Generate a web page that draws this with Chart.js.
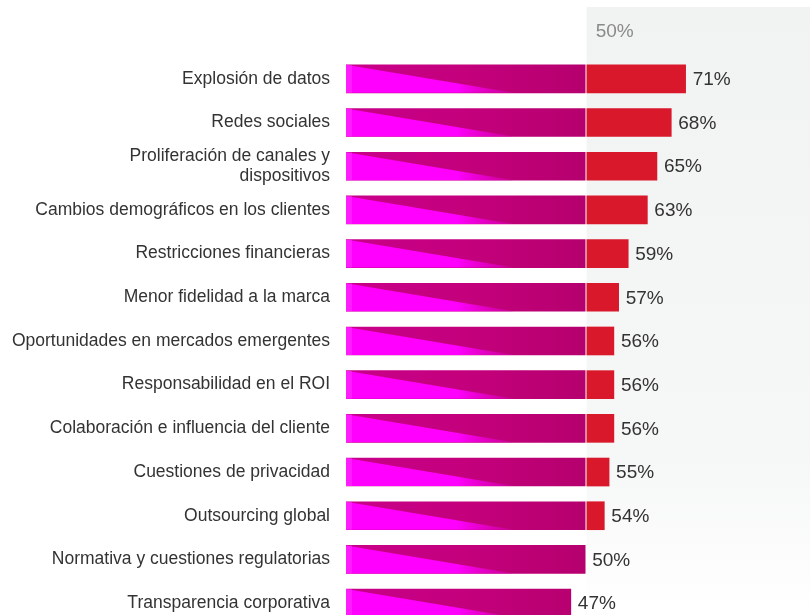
<!DOCTYPE html>
<html>
<head>
<meta charset="utf-8">
<script src="https://cdn.jsdelivr.net/npm/chart.js@4.4.1/dist/chart.umd.min.js"></script>
<style>
  html, body { margin: 0; padding: 0; background: #fff; overflow: hidden; }
  canvas { display: block; }
</style>
</head>
<body>
<canvas id="factorsChart" width="810" height="643"></canvas>
<script>
const categories = [
  'Explosión de datos',
  'Redes sociales',
  ['Proliferación de canales y', 'dispositivos'],
  'Cambios demográficos en los clientes',
  'Restricciones financieras',
  'Menor fidelidad a la marca',
  'Oportunidades en mercados emergentes',
  'Responsabilidad en el ROI',
  'Colaboración e influencia del cliente',
  'Cuestiones de privacidad',
  'Outsourcing global',
  'Normativa y cuestiones regulatorias',
  'Transparencia corporativa'
];
const percentages = [71, 68, 65, 63, 59, 57, 56, 56, 56, 55, 54, 50, 47];
const threshold = 50;
const headerLabel = '50%';

const baseParts = percentages.map(v => [0, Math.min(v, threshold)]);
const extraParts = percentages.map(v => v > threshold ? [threshold + 0.35, v] : null);

// gray panel behind the part above 50%
const panelPlugin = {
  id: 'panel',
  beforeDraw(chart) {
    const { ctx, scales } = chart;
    const x0 = scales.x.getPixelForValue(threshold) + 1.5;
    const g = ctx.createLinearGradient(0, 7, 0, 615);
    g.addColorStop(0, '#f1f2f2');
    g.addColorStop(0.75, '#f6f7f7');
    g.addColorStop(1, '#ffffff');
    ctx.save();
    ctx.fillStyle = g;
    ctx.fillRect(x0, 7, chart.width - x0, chart.height - 7);
    ctx.fillStyle = '#8a8a8a';
    ctx.font = '19px "Liberation Sans", Arial, sans-serif';
    ctx.textBaseline = 'middle';
    ctx.fillText(headerLabel, x0 + 9, 32);
    ctx.restore();
  }
};

// bright diagonal wedge on the magenta part + value labels
const overlayPlugin = {
  id: 'overlay',
  afterDatasetsDraw(chart) {
    const { ctx, scales } = chart;
    const meta = chart.getDatasetMeta(0);
    const xl = scales.x.getPixelForValue(0);
    const xd = scales.x.getPixelForValue(35);
    ctx.save();
    meta.data.forEach((bar, i) => {
      const top = bar.y - bar.height / 2;
      const bottom = bar.y + bar.height / 2;
      const g = ctx.createLinearGradient(xl, 0, xd, 0);
      g.addColorStop(0, '#ff00ff');
      g.addColorStop(0.66, '#ff00ff');
      g.addColorStop(1, 'rgba(214,0,170,0.6)');
      ctx.fillStyle = g;
      ctx.beginPath();
      ctx.moveTo(xl, top);
      ctx.lineTo(xl, bottom);
      ctx.lineTo(xd, bottom);
      ctx.closePath();
      ctx.fill();
      // thin lighter strip at the start
      ctx.fillStyle = 'rgba(255,80,255,0.35)';
      ctx.fillRect(xl, top, 6, bar.height);

      const v = percentages[i];
      ctx.fillStyle = '#333';
      ctx.font = '19px "Liberation Sans", Arial, sans-serif';
      ctx.textBaseline = 'middle';
      ctx.fillText(v + '%', scales.x.getPixelForValue(v) + 7, bar.y + 1);
    });
    ctx.restore();
  }
};

const ctx = document.getElementById('factorsChart').getContext('2d');
new Chart(ctx, {
  type: 'bar',
  data: {
    labels: categories,
    datasets: [{
      label: 'base',
      data: baseParts,
      backgroundColor: (c) => {
        const area = c.chart.chartArea;
        if (!area) return '#c2007a';
        const x50 = c.chart.scales.x.getPixelForValue(threshold);
        const g = c.chart.ctx.createLinearGradient(area.left, 0, x50, 0);
        g.addColorStop(0, '#c8008a');
        g.addColorStop(0.5, '#c4007c');
        g.addColorStop(1, '#b6006e');
        return g;
      },
      borderSkipped: false,
      barThickness: 28,
      grouped: false
    }, {
      label: 'extra',
      data: extraParts,
      backgroundColor: '#d9192b',
      barThickness: 28,
      grouped: false
    }]
  },
  options: {
    indexAxis: 'y',
    responsive: false,
    animation: false,
    layout: { padding: { top: 57, bottom: 0, left: 0, right: 0 } },
    plugins: {
      legend: { display: false },
      tooltip: { enabled: false }
    },
    scales: {
      x: {
        min: 0,
        max: 97,
        display: false
      },
      y: {
        grid: { display: false },
        border: { display: false },
        ticks: {
          color: '#333',
          padding: 8,
          font: { family: '"Liberation Sans", Arial, sans-serif', size: 17.5, lineHeight: 1.15 }
        },
        afterFit(scale) { scale.width = 346; }
      }
    }
  },
  plugins: [panelPlugin, overlayPlugin]
});
</script>
</body>
</html>
